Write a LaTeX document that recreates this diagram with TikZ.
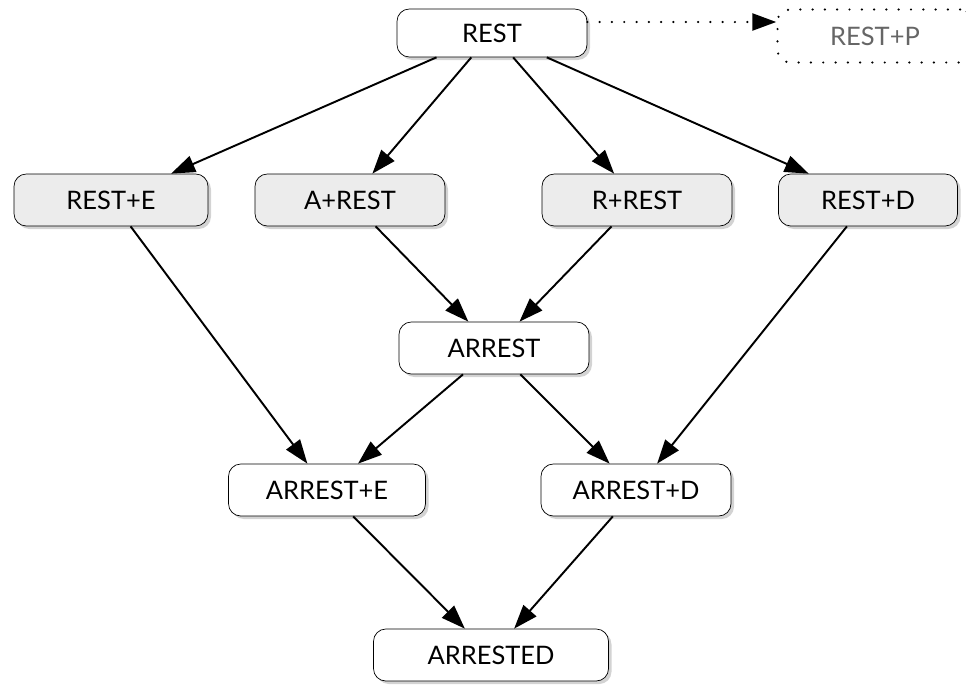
\documentclass[tikz,border=0pt]{standalone}
\usepackage{fontspec}
\setmainfont{Lato}
\usetikzlibrary{arrows.meta,shadows}

\tikzset{
  state/.style={draw, rounded corners=7pt, fill=white, minimum width=3.8cm,
    minimum height=1.04cm, font=\fontsize{14.5}{16}\selectfont,
    drop shadow={shadow xshift=0.06cm, shadow yshift=-0.06cm, opacity=0.35}},
  greystate/.style={state, fill=gray!15},
  spaced dots/.style={dash pattern=on 0pt off 7pt, line cap=round, line width=1.4pt},
  arr/.style={-{Triangle[length=0.48cm,width=0.34cm]}, line width=1.1pt}
}

\begin{document}
\begin{tikzpicture}
	\useasboundingbox (0,0) rectangle (19.32,-13.68);
			\node	(rest) at (9.84,-0.66) [state, minimum height=0.96cm] {REST};
			\node	(restp) at (17.5,-0.72) [draw, spaced dots, rounded corners=7pt, minimum width=3.9cm, minimum height=1.06cm, text=gray!80!black, font=\fontsize{14.5}{16}\selectfont] {REST+P};
			\node	(reste) at (2.22,-4.0) [greystate, minimum width=3.88cm] {REST+E};
			\node	(arest) at (7.0,-4.0) [greystate] {A+REST};
			\node	(rrest) at (12.74,-4.0) [greystate] {R+REST};
			\node	(restd) at (17.36,-4.0) [greystate, minimum width=3.58cm] {REST+D};
			\node	(arr) at (9.88,-6.96) [state] {ARREST};
			\node	(arre) at (6.54,-9.8) [state, minimum width=3.94cm] {ARREST+E};
			\node	(arrd) at (12.72,-9.8) [state] {ARREST+D};
			\node	(arrested) at (9.82,-13.1) [state, minimum width=4.7cm] {ARRESTED};
			
			\draw[arr, spaced dots] ([yshift=0.22cm]rest.east) -- ([yshift=0.22cm]rest.east -| restp.west);
			\draw[arr]
			(rest) edge (reste)
			(rest) edge (arest)
			(rest) edge (rrest)
			(rest) edge (restd)
			(arest) edge (arr)
			(rrest) edge (arr)
			(reste) edge (arre)
			(restd) edge (arrd)
			(arr) edge (arre)
			(arr) edge (arrd)
			(arre) edge (arrested)
			(arrd) edge (arrested)
			;
		\end{tikzpicture}
\end{document}
